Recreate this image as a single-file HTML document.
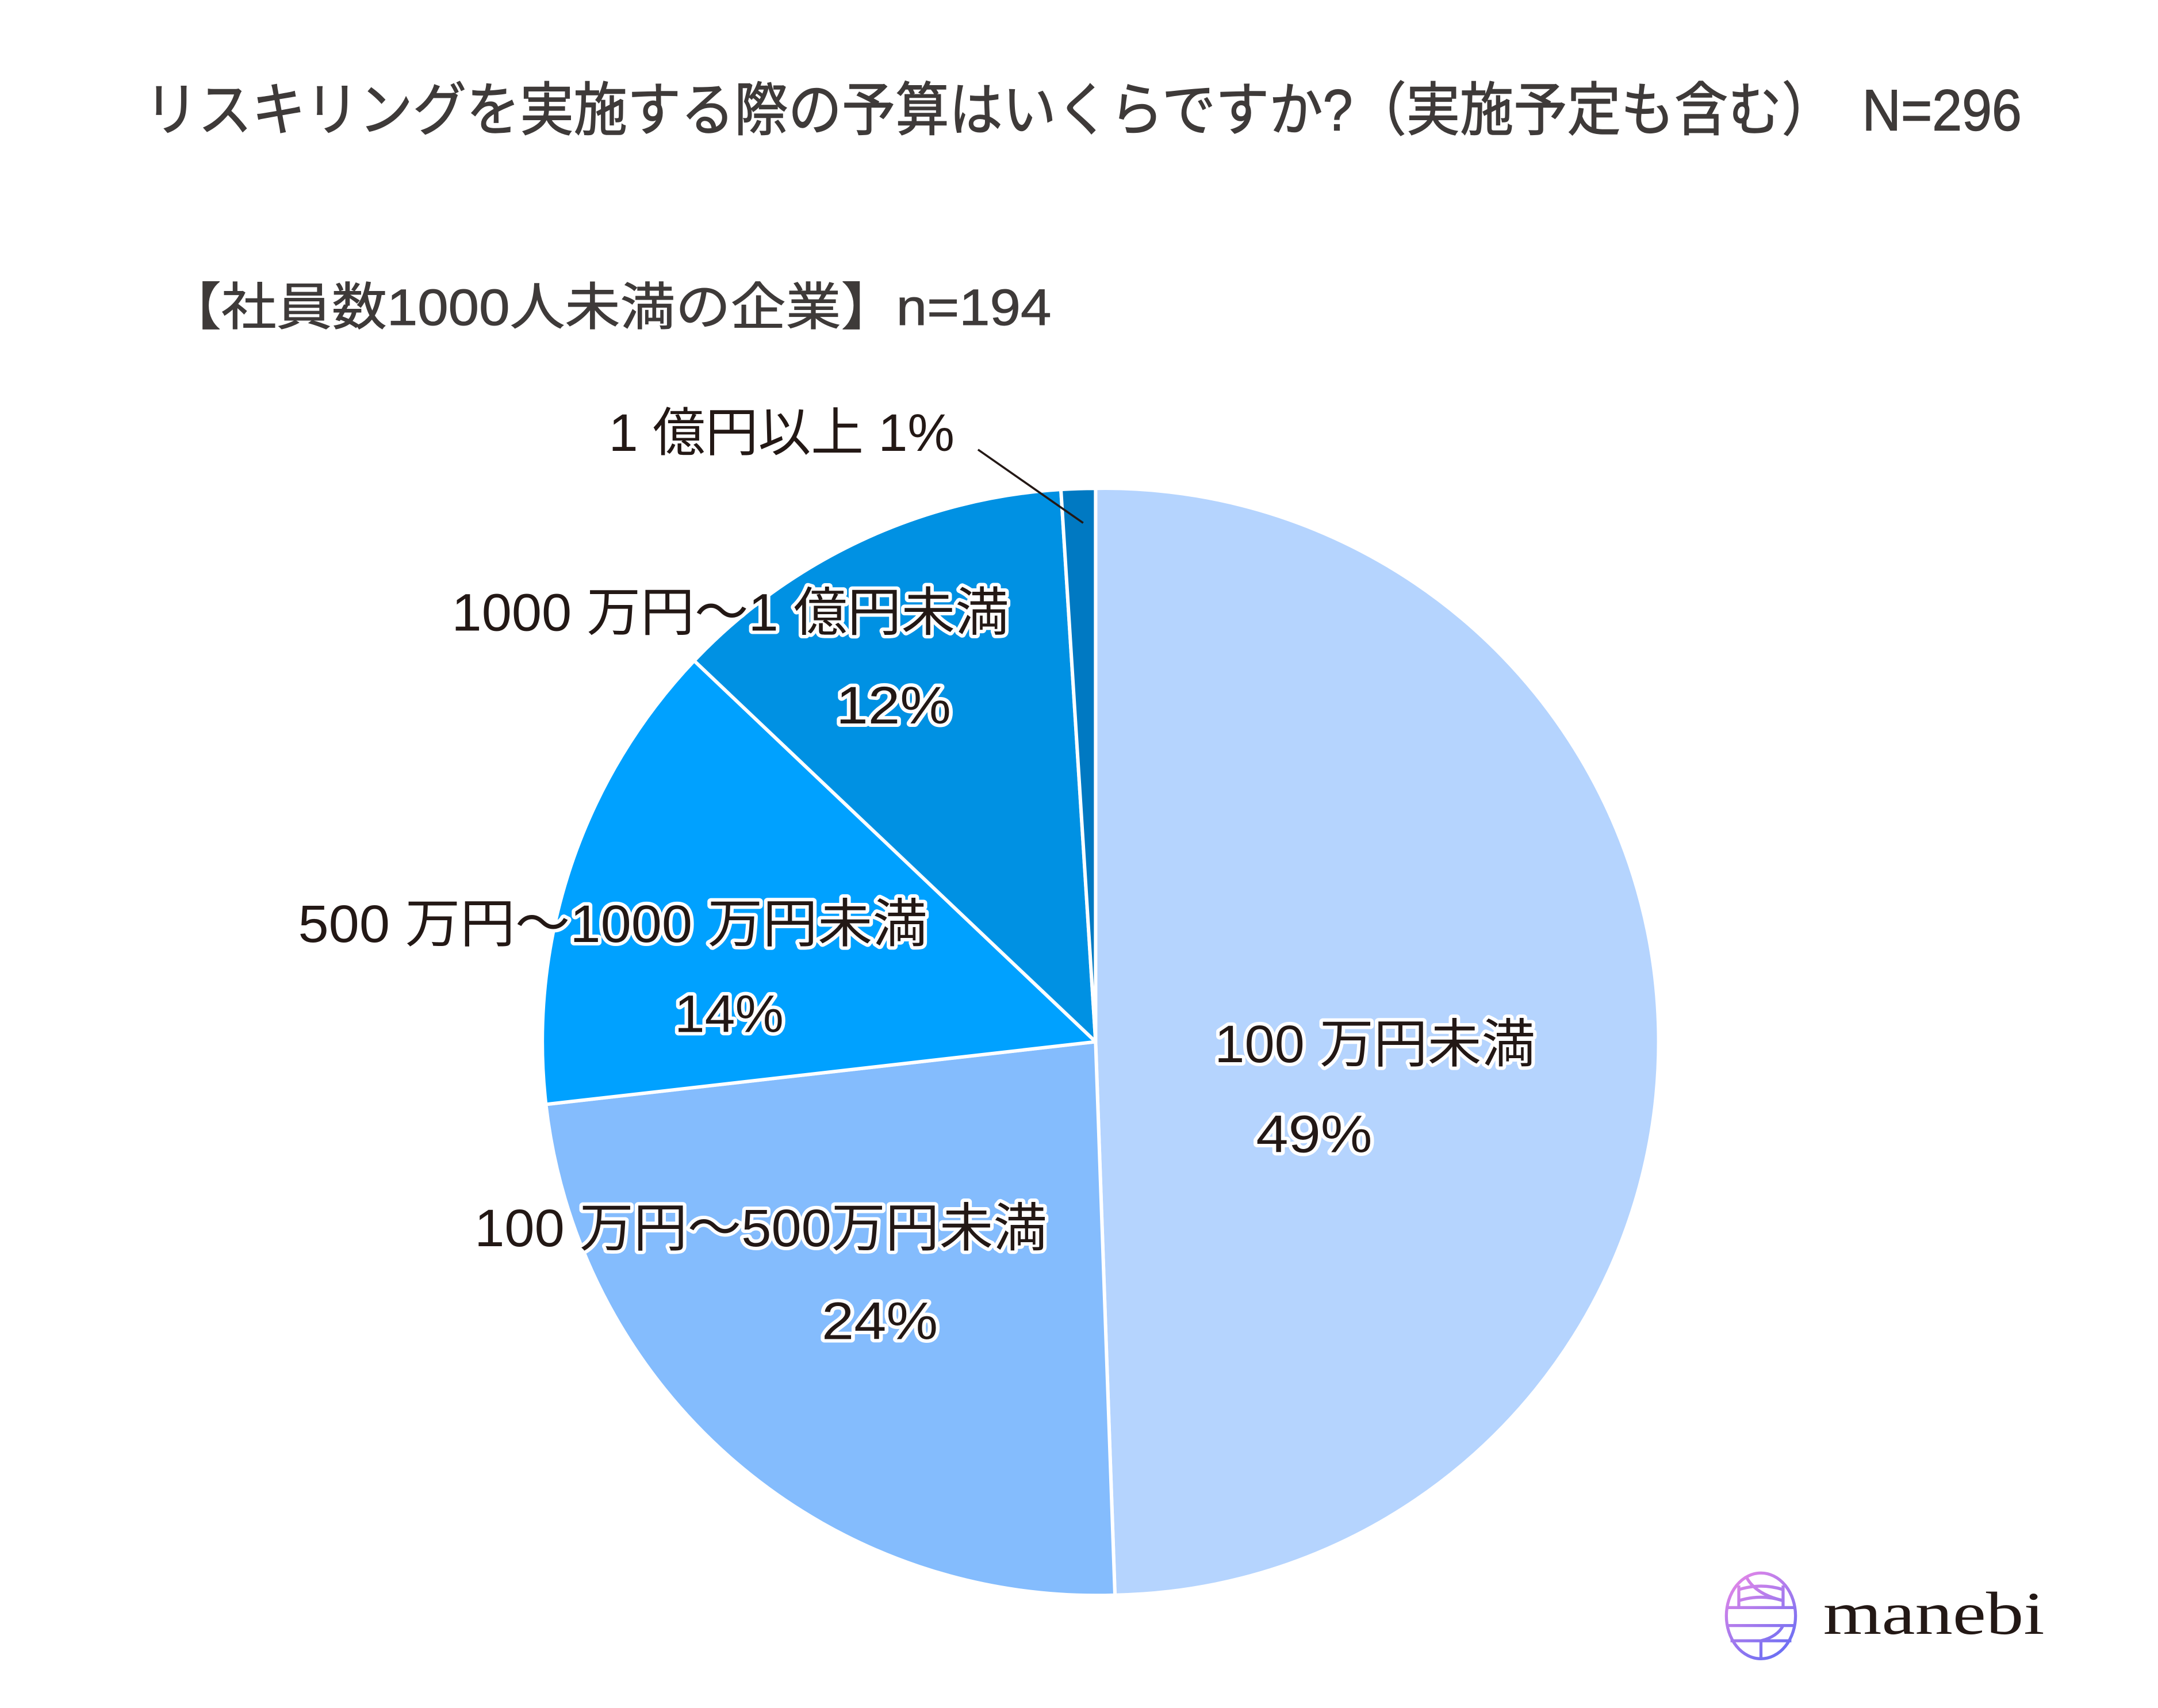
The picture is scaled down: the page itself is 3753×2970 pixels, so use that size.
<!DOCTYPE html>
<html><head><meta charset="utf-8"><style>
html,body{margin:0;padding:0;background:#fff;}
svg{display:block;}
text{font-family:"Liberation Sans","Noto Sans CJK JP",sans-serif;}
.l{font-size:38px;fill:#231815;dominant-baseline:central;text-anchor:middle;}
.h{stroke:#fff;stroke-width:5px;paint-order:stroke;stroke-linejoin:round;}
</style></head><body>
<svg width="3753" height="2970" viewBox="0 0 1560 1234.6" xmlns="http://www.w3.org/2000/svg">
<rect width="1560" height="1234.6" fill="#fff"/>
<text x="783" y="80" style="font-size:42px;fill:#3e3a39;stroke:#3e3a39;stroke-width:0.6px;dominant-baseline:central;text-anchor:middle" textLength="1357" lengthAdjust="spacingAndGlyphs">リスキリングを実施する際の予算はいくらですか?（実施予定も含む）　N=296</text>
<text x="440" y="222" style="font-size:37px;fill:#3e3a39;stroke:#3e3a39;stroke-width:0.4px;dominant-baseline:central;text-anchor:middle" textLength="640" lengthAdjust="spacingAndGlyphs">【社員数1000人未満の企業】n=194</text>
<g stroke="#fff" stroke-width="2.5" stroke-linejoin="round">
<path d="M792,753 L792,353 A400,400 0 0 1 806,1153 Z" fill="#b5d4fe"/>
<path d="M792,753 L806,1153 A400,400 0 0 1 394.6,798.3 Z" fill="#84bcfd"/>
<path d="M792,753 L394.6,798.3 A400,400 0 0 1 501.8,477.6 Z" fill="#00a1ff"/>
<path d="M792,753 L501.8,477.6 A400,400 0 0 1 766.9,353.8 Z" fill="#0091e3"/>
<path d="M792,753 L766.9,353.8 A400,400 0 0 1 792,353 Z" fill="#0079c2"/>
</g>
<line x1="707" y1="325" x2="783" y2="378" stroke="#231815" stroke-width="1.5"/>
<text class="l" x="565" y="313" textLength="250" lengthAdjust="spacingAndGlyphs">1 億円以上 1%</text>
<text class="l h" x="528" y="443" textLength="403" lengthAdjust="spacingAndGlyphs">1000 万円〜1 億円未満</text>
<text class="l h" x="646" y="510" textLength="83" lengthAdjust="spacingAndGlyphs">12%</text>
<text class="l h" x="443" y="668" textLength="455" lengthAdjust="spacingAndGlyphs">500 万円〜1000 万円未満</text>
<text class="l h" x="527" y="733" textLength="79" lengthAdjust="spacingAndGlyphs">14%</text>
<text class="l h" x="994" y="755" textLength="232" lengthAdjust="spacingAndGlyphs">100 万円未満</text>
<text class="l h" x="950" y="820" textLength="84" lengthAdjust="spacingAndGlyphs">49%</text>
<text class="l h" x="550" y="888" textLength="414" lengthAdjust="spacingAndGlyphs">100 万円〜500万円未満</text>
<text class="l h" x="636" y="955" textLength="84" lengthAdjust="spacingAndGlyphs">24%</text>
<defs><linearGradient id="g" gradientUnits="userSpaceOnUse" x1="1248" y1="1137" x2="1298" y2="1199"><stop offset="0" stop-color="#ee88e6"/><stop offset="1" stop-color="#5b6cf5"/></linearGradient></defs>
<g fill="none" stroke="url(#g)" stroke-width="2.2">
<ellipse cx="1273" cy="1168" rx="25" ry="31"/>
<line x1="1248" y1="1162" x2="1298" y2="1162"/>
<line x1="1249" y1="1175" x2="1297" y2="1175"/>
<line x1="1257" y1="1146" x2="1257" y2="1162"/>
<line x1="1289" y1="1146" x2="1289" y2="1162"/>
<path d="M1257,1149 Q1273,1144 1289,1149"/>
<path d="M1257,1157 Q1273,1152 1289,1157"/>
<path d="M1262,1139 Q1268,1152 1289,1157"/>
<line x1="1251" y1="1186" x2="1295" y2="1186"/>
<path d="M1273,1186 Q1285,1183 1289,1175"/>
<line x1="1273" y1="1186" x2="1273" y2="1199"/>
</g>
<text x="1318" y="1181" style="font-family:'Liberation Serif','Noto Serif CJK SC',serif;font-size:44px;fill:#231815" textLength="160" lengthAdjust="spacingAndGlyphs">manebi</text>
</svg>
</body></html>
